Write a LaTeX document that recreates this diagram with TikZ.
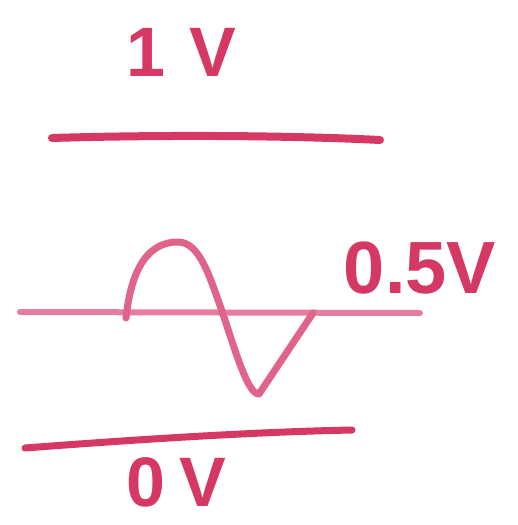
\documentclass[tikz,border=0pt]{standalone}
\usepackage{fontspec}
\setmainfont{Liberation Sans}
\definecolor{inkdark}{RGB}{214,56,100}
\definecolor{inkmid}{RGB}{224,100,138}
\definecolor{inklight}{RGB}{230,125,158}
\tikzset{
  stroke/.style={line cap=round, line join=round},
  label/.style={inner sep=0pt, text=inkdark, font=\bfseries\fontsize{70}{70}\selectfont}
}
\begin{document}
\begin{tikzpicture}[x=1pt,y=-1pt]
\useasboundingbox (0,0) rectangle (518,525);
% top line (1V)
\coordinate (t1) at (52,138);
\coordinate (t2) at (380,140);
\draw[stroke, inkdark, line width=8pt] (t1) .. controls (150,135) and (280,135) .. (t2);
\node[label] (v1) at (181,52) {1\hspace{24pt}V};
% middle line (0.5V)
\coordinate (m1) at (20,312);
\coordinate (m2) at (420,313);
\draw[stroke, inklight, line width=6pt] (m1) -- (m2);
% wave
\coordinate (w0) at (126,318);
\coordinate (wp) at (178,242);
\coordinate (wc) at (222,311);
\coordinate (wt) at (259,394);
\coordinate (we) at (313,313);
\draw[stroke, inkmid, line width=7pt]
  (w0) .. controls (132,262) and (152,242) .. (wp)
  .. controls (200,242) and (210,278) .. (wc)
  .. controls (235,350) and (248,395) .. (wt)
  -- (we);
\node[label, font=\bfseries\fontsize{74}{74}\selectfont] (v05) at (420,268) {0.5V};
% bottom line (0V)
\coordinate (b1) at (25,448);
\coordinate (b2) at (352,430);
\draw[stroke, inkdark, line width=7pt] (b1) .. controls (130,440) and (250,432) .. (b2);
\node[label] (v0) at (176,482) {0\hspace{14pt}V};
\end{tikzpicture}
\end{document}
